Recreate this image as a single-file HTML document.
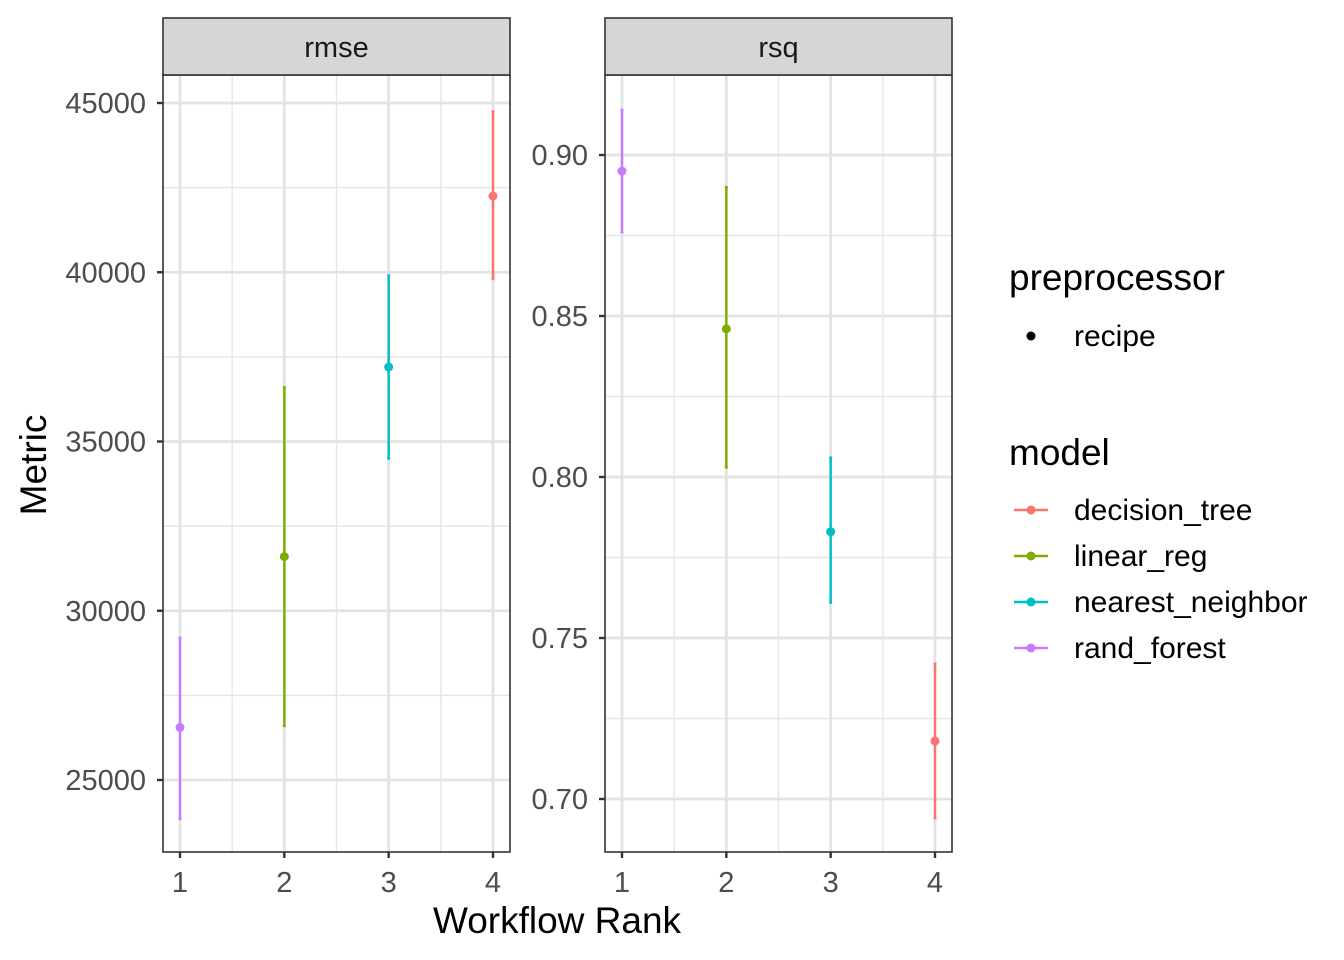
<!DOCTYPE html>
<html><head><meta charset="utf-8"><style>
body{margin:0;background:#fff}
svg{display:block;font-family:"Liberation Sans",Arial,sans-serif}
</style></head><body>
<svg id="c" width="1344" height="960" xmlns="http://www.w3.org/2000/svg"></svg>
<script>
const ranks=[1,2,3,4];
const models=["decision_tree","linear_reg","nearest_neighbor","rand_forest"];
const colors=["#F8766D","#7CAE00","#00BFC4","#C77CFF"];
const rmseModel=[3,1,2,0];
const rmseMean=[26550,31600,37200,42250];
const rmseLo=[23850,26600,34500,39800];
const rmseHi=[29200,36600,39900,44750];
const rmseTicks=[25000,30000,35000,40000,45000];
const rsqModel=[3,1,2,0];
const rsqMean=[0.895,0.846,0.783,0.718];
const rsqLo=[0.876,0.803,0.761,0.694];
const rsqHi=[0.914,0.890,0.806,0.742];
const rsqTicks=[0.70,0.75,0.80,0.85,0.90];
const rsqLabels=["0.70","0.75","0.80","0.85","0.90"];

const svg=document.getElementById('c');
const NS="http://www.w3.org/2000/svg";
function el(t,a,p){const e=document.createElementNS(NS,t);for(const k in a)e.setAttribute(k,a[k]);(p||svg).appendChild(e);return e;}

function panel(name,x0,x1,vTop,yTop,vBot,yBot,ticks,labels,mean,lo,hi,mdl){
  const g=el('g',{});
  
  
  const xs=r=>x0+17+(r-1)*(x1-x0-34)/3;
  const ys=v=>yBot+(v-vBot)*(yTop-yBot)/(vTop-vBot);
  const pt=75,pb=852;
  el('rect',{x:x0,y:pt,width:x1-x0,height:pb-pt,fill:'#fff'},g);
  const step=ticks[1]-ticks[0];
  for(let i=0;i<=ticks.length;i++){const v=ticks[0]+(i-0.5)*step;const y=ys(v);if(y>pt&&y<pb)el('line',{x1:x0,x2:x1,y1:y,y2:y,stroke:'#e6e6e6','stroke-width':1.4},g);}
  [1.5,2.5,3.5].forEach(r=>el('line',{x1:xs(r),x2:xs(r),y1:pt,y2:pb,stroke:'#e6e6e6','stroke-width':1.4},g));
  ticks.forEach(v=>el('line',{x1:x0,x2:x1,y1:ys(v),y2:ys(v),stroke:'#e3e3e3','stroke-width':2.8},g));
  ranks.forEach(r=>el('line',{x1:xs(r),x2:xs(r),y1:pt,y2:pb,stroke:'#e3e3e3','stroke-width':2.8},g));
  ranks.forEach((r,i)=>{
    const c=colors[mdl[i]],x=xs(r);
    const eb=el('g',{},g);
    
    
    el('line',{x1:x,x2:x,y1:ys(lo[i]),y2:ys(hi[i]),stroke:c,'stroke-width':2.4},eb);
    el('line',{x1:x-1.5,x2:x+1.5,y1:ys(lo[i]),y2:ys(lo[i]),stroke:c,'stroke-width':2.4},eb);
    el('line',{x1:x-1.5,x2:x+1.5,y1:ys(hi[i]),y2:ys(hi[i]),stroke:c,'stroke-width':2.4},eb);
    const p=el('circle',{cx:x,cy:ys(mean[i]),r:4.5,fill:c},g);
    
    
  });
  el('rect',{x:x0,y:pt,width:x1-x0,height:pb-pt,fill:'none',stroke:'#333','stroke-width':1.6},g);
  const s=el('rect',{x:x0,y:18,width:x1-x0,height:57,fill:'#d6d6d6',stroke:'#333','stroke-width':1.6},g);
  
  
  const st=el('text',{x:(x0+x1)/2,y:57,'text-anchor':'middle','font-size':29,fill:'#1a1a1a'},g);
  st.textContent=name;
  
  
  ticks.forEach((v,i)=>{
    el('line',{x1:x0-6,x2:x0,y1:ys(v),y2:ys(v),stroke:'#333','stroke-width':2.4},g);
    const t=el('text',{x:x0-17,y:ys(v)+10,'text-anchor':'end','font-size':29,fill:'#4d4d4d'},g);
    t.textContent=labels[i];
    
    
  });
  ranks.forEach(r=>{
    el('line',{x1:xs(r),x2:xs(r),y1:pb,y2:pb+6,stroke:'#333','stroke-width':2.4},g);
    const t=el('text',{x:xs(r),y:pb+40,'text-anchor':'middle','font-size':29,fill:'#4d4d4d'},g);
    t.textContent=r;
    
    
  });
}
panel('rmse',163,510,45000,103,25000,780,rmseTicks,rmseTicks.map(String),rmseMean,rmseLo,rmseHi,rmseModel);
panel('rsq',605,952,0.90,155,0.70,799,rsqTicks,rsqLabels,rsqMean,rsqLo,rsqHi,rsqModel);

let t=el('text',{x:557,y:933,'text-anchor':'middle','font-size':37,fill:'#000'});
t.textContent='Workflow Rank';


t=el('text',{x:0,y:0,'text-anchor':'middle','font-size':37,fill:'#000',transform:'translate(46,465) rotate(-90)'});
t.textContent='Metric';



t=el('text',{x:1009,y:290,'font-size':37,fill:'#000'});
t.textContent='preprocessor';


el('circle',{cx:1031,cy:336,r:4.5,fill:'#000'});
t=el('text',{x:1074,y:346,'font-size':30,fill:'#000'});
t.textContent='recipe';


t=el('text',{x:1009,y:465,'font-size':37,fill:'#000'});
t.textContent='model';


models.forEach((m,i)=>{
  const y=510+i*46;
  const g=el('g',{});
  
  
  el('line',{x1:1014,x2:1048,y1:y,y2:y,stroke:colors[i],'stroke-width':2.4},g);
  el('circle',{cx:1031,cy:y,r:4.5,fill:colors[i]},g);
  const tt=el('text',{x:1074,y:y+10,'font-size':30,fill:'#000'},g);
  tt.textContent=m;
});
</script>
</body></html>
